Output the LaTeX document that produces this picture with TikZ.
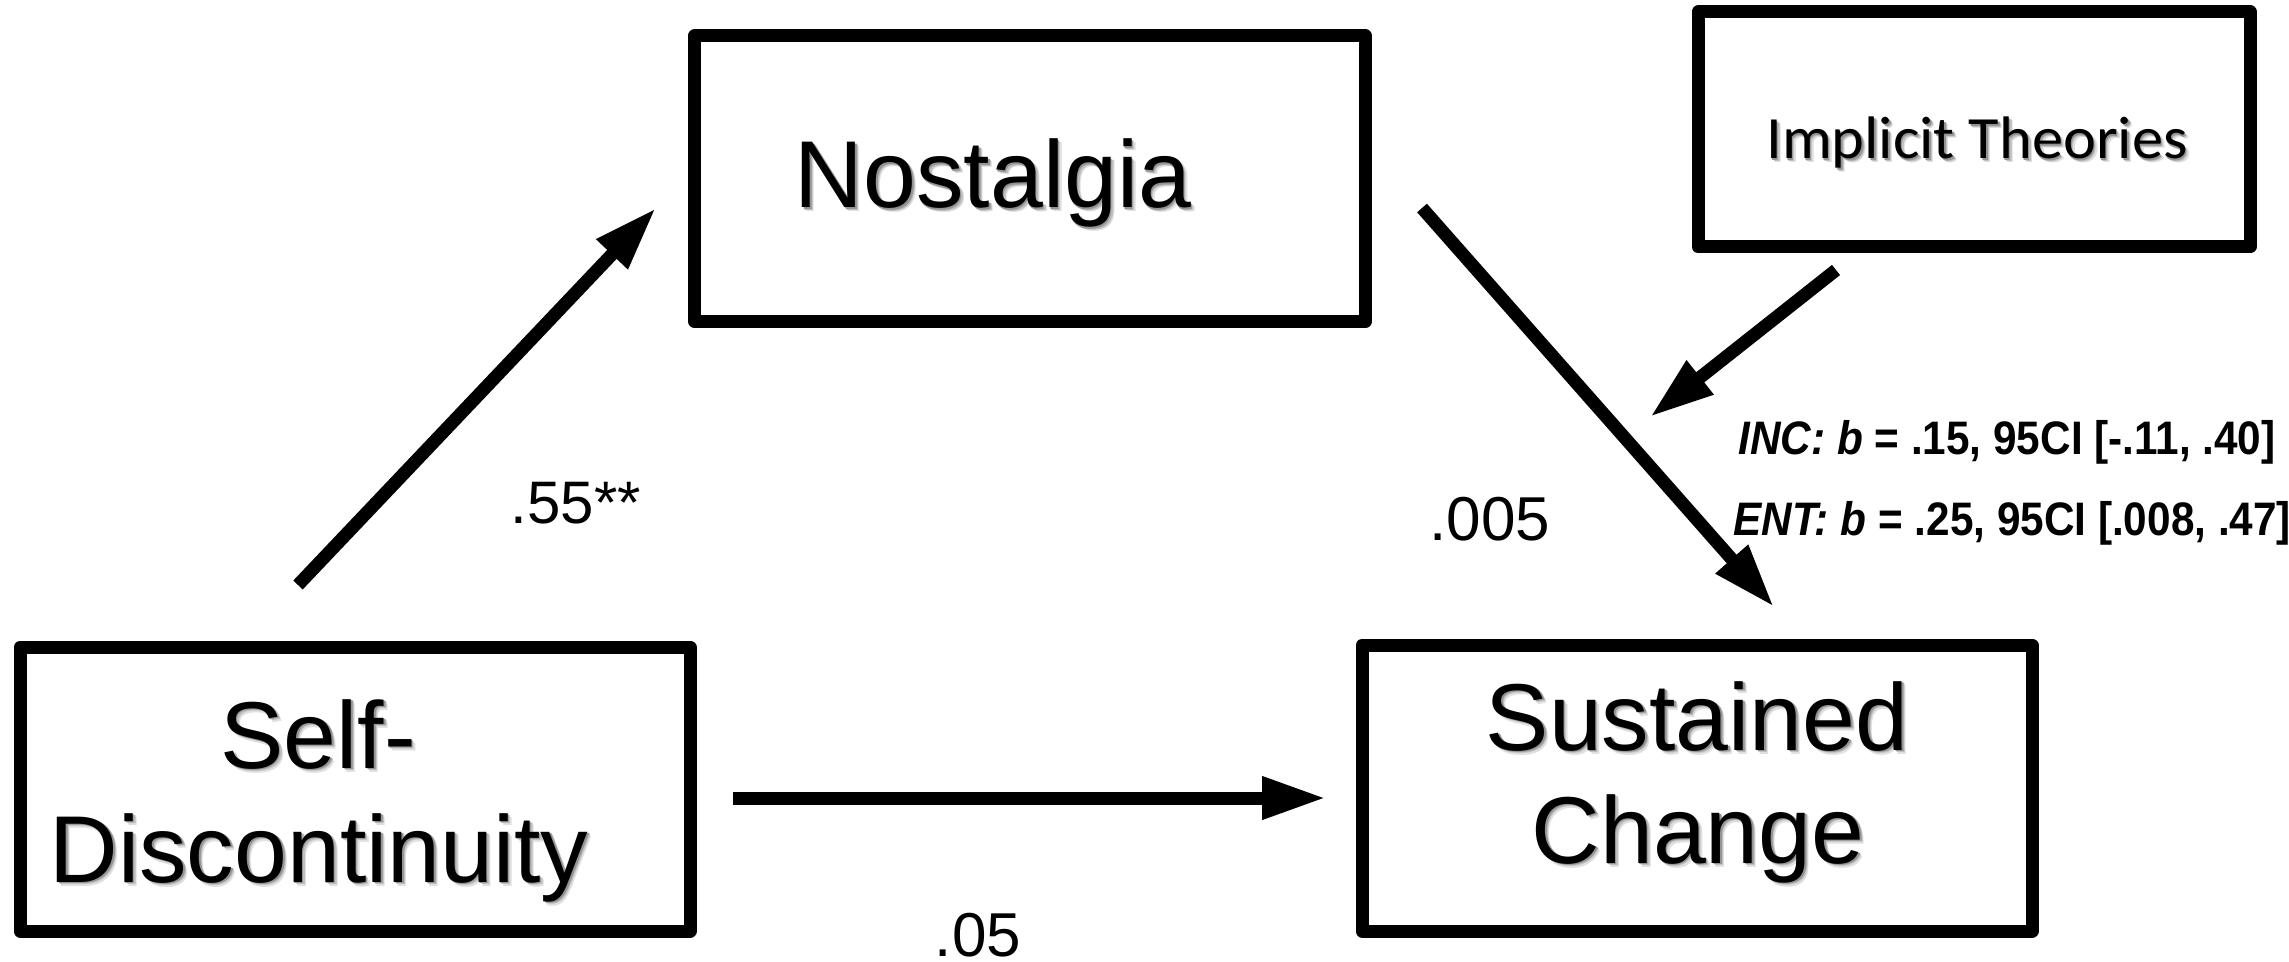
\documentclass[tikz,border=0pt]{standalone}
\usepackage{fontspec}
\usetikzlibrary{arrows.meta}
\setmainfont{Liberation Sans}
\newfontfamily\statfont[FakeStretch=0.9]{Liberation Sans}
\newfontfamily\calfont[FakeStretch=1.04]{Carlito}
% soft drop shadow behind a piece of text
\newcommand\shadowed[1]{\leavevmode
  \rlap{\kern2pt\raisebox{-2pt}{\color{black!12}#1}}%
  \rlap{\kern1.4pt\raisebox{-1.4pt}{\color{black!25}#1}}%
  \rlap{\kern0.8pt\raisebox{-0.8pt}{\color{black!42}#1}}%
  #1}
\tikzset{
  varbox/.style={draw, line width=6.5pt, line join=round, inner sep=0pt, fill=white},
  bigtext/.style={anchor=base, inner sep=0pt, font=\fontsize{47.5pt}{52pt}\selectfont},
  coef/.style={anchor=base, inner sep=0pt, text depth=0pt, font=\fontsize{31pt}{34pt}\selectfont},
  stat/.style={anchor=base west, inner sep=0pt, font=\statfont\bfseries\fontsize{23.5pt}{26pt}\selectfont},
  path arrow/.style={line width=6.5pt, -{Triangle[length=32pt,width=20pt]}}
}
\begin{document}
\begin{tikzpicture}[x=0.5pt,y=-0.5pt]
\useasboundingbox (0,0) rectangle (2289,962);

% variable boxes
\node (nos) [varbox, minimum width=335.5pt, minimum height=142.75pt] at (1030,178.75) {};
\node (self) [varbox, minimum width=335pt, minimum height=142pt] at (355,789) {};
\node (sus) [varbox, minimum width=335pt, minimum height=143pt] at (1697,788) {};
\node (imp) [varbox, minimum width=276pt, minimum height=117.5pt] at (1974,129.5) {};

% box labels
\node (nosT) [bigtext] at (993,208) {\shadowed{Nostalgia}};
\node (selfT1) [bigtext] at (318,768) {\shadowed{Self-}};
\node (selfT2) [bigtext] at (319,882) {\shadowed{Discontinuity}};
\node (susT1) [bigtext] at (1697,750) {\shadowed{Sustained}};
\node (susT2) [bigtext] at (1698,863) {\shadowed{Change}};
\node (impT) [anchor=base, inner sep=0pt, font=\calfont\fontsize{30pt}{33pt}\selectfont] at (1977,159) {\shadowed{Implicit Theories}};

% arrow end points
\coordinate (a1s) at (298,585);
\coordinate (a1e) at (656,208);
\coordinate (a2s) at (733,798);
\coordinate (a2e) at (1326,798);
\coordinate (a3s) at (1422,208);
\coordinate (a3e) at (1774,607);
\coordinate (a4s) at (1836,270);
\coordinate (a4e) at (1650,417);

\draw[path arrow] (a1s) -- (a1e);
\draw[path arrow] (a2s) -- (a2e);
\draw[path arrow] (a3s) -- (a3e);
\draw[path arrow] (a4s) -- (a4e);

% path coefficients
\node (c1) [coef, font=\fontsize{30pt}{33pt}\selectfont] at (576,523) {.55**};
\node (c3) [coef] at (1490,540) {.005};
\node (c2) [coef] at (978,956) {.05};

% conditional effects
\node (inc) [stat] at (1738,454) {\itshape INC: b \upshape= .15, 95CI [-.11, .40]};
\node (ent) [stat] at (1733,535) {\itshape ENT: b \upshape= .25, 95CI [.008, .47]};
\end{tikzpicture}
\end{document}
